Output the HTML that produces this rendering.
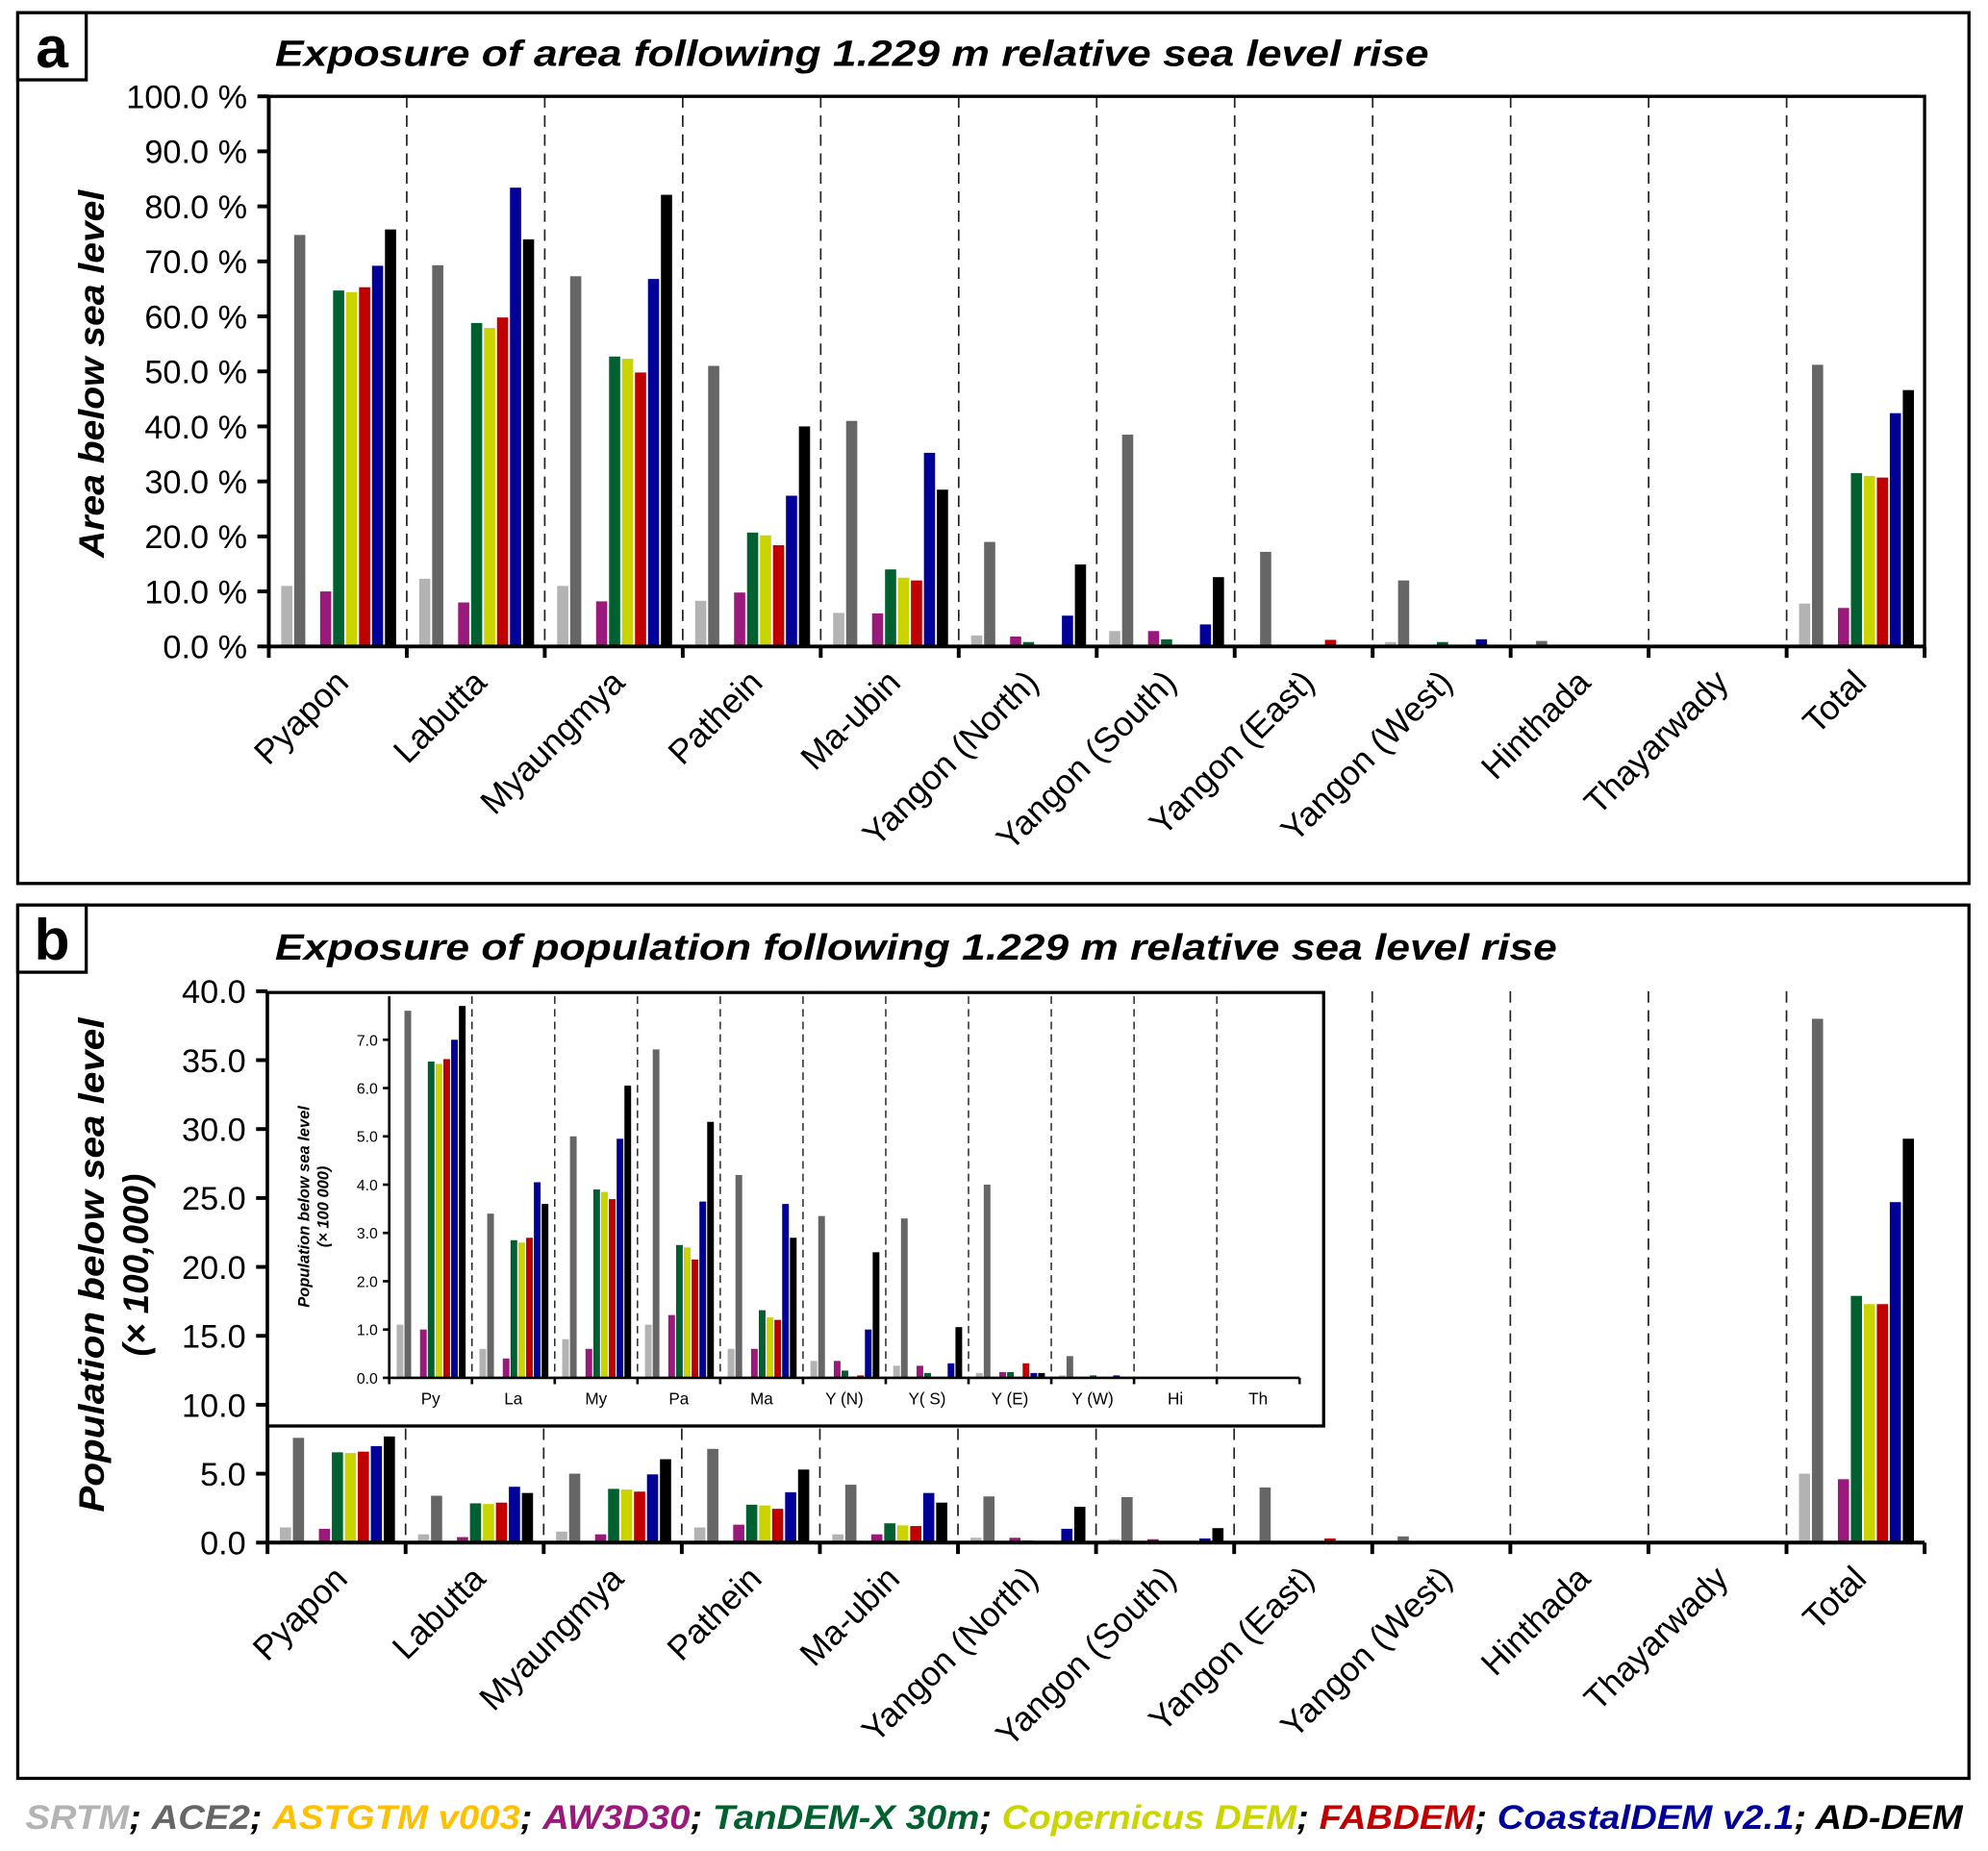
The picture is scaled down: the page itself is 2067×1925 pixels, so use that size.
<!DOCTYPE html>
<html><head><meta charset="utf-8"><style>
html,body{margin:0;padding:0;background:#fff}
svg{display:block}
text{font-family:"Liberation Sans",sans-serif}
.n{font-family:"Liberation Sans Narrow","Liberation Sans",sans-serif}
</style></head><body>
<svg id="fig" width="2067" height="1925" viewBox="0 0 1568 1460.3" preserveAspectRatio="none" xmlns="http://www.w3.org/2000/svg">
<rect x="14" y="10" width="1539" height="687" fill="none" stroke="#000" stroke-width="2.5"/>
<rect x="14" y="10" width="54" height="53" fill="#fff" stroke="#000" stroke-width="2.5"/>
<text x="41" y="53" font-size="46" font-weight="bold" text-anchor="middle">a</text>
<text x="217" y="52" font-size="29" font-weight="bold" font-style="italic" textLength="910" lengthAdjust="spacingAndGlyphs">Exposure of area following 1.229 m relative sea level rise</text>
<rect x="14" y="714" width="1539" height="689" fill="none" stroke="#000" stroke-width="2.5"/>
<rect x="14" y="714" width="54" height="53" fill="#fff" stroke="#000" stroke-width="2.5"/>
<text x="41" y="757" font-size="46" font-weight="bold" text-anchor="middle">b</text>
<text x="217" y="757" font-size="29" font-weight="bold" font-style="italic" textLength="1011" lengthAdjust="spacingAndGlyphs">Exposure of population following 1.229 m relative sea level rise</text>
<text transform="translate(82,295) rotate(-90)" font-size="28" font-weight="bold" font-style="italic" text-anchor="middle" textLength="290" lengthAdjust="spacingAndGlyphs">Area below sea level</text>
<text transform="translate(82,998) rotate(-90)" font-size="28" font-weight="bold" font-style="italic" text-anchor="middle" textLength="390" lengthAdjust="spacingAndGlyphs">Population below sea level</text>
<text transform="translate(117,998) rotate(-90)" font-size="28" font-weight="bold" font-style="italic" text-anchor="middle">(× 100,000)</text>
<g id="ga"></g><g id="gb"></g><g id="gi"></g>
<text x="20" y="1443" font-size="27" font-weight="bold" font-style="italic" textLength="1528" lengthAdjust="spacingAndGlyphs"><tspan fill="#b3b3b3">SRTM</tspan>; <tspan fill="#666">ACE2</tspan>; <tspan fill="#ffc000">ASTGTM v003</tspan>; <tspan fill="#991a7a">AW3D30</tspan>; <tspan fill="#006030">TanDEM-X 30m</tspan>; <tspan fill="#ccd400">Copernicus DEM</tspan>; <tspan fill="#c00000">FABDEM</tspan>; <tspan fill="#000099">CoastalDEM v2.1</tspan>; AD-DEM</text>
</svg>
<script>
const categories=["Pyapon","Labutta","Myaungmya","Pathein","Ma-ubin","Yangon (North)","Yangon (South)","Yangon (East)","Yangon (West)","Hinthada","Thayarwady","Total"];
const insetCategories=["Py","La","My","Pa","Ma","Y (N)","Y( S)","Y (E)","Y (W)","Hi","Th"];
const seriesNames=["SRTM","ACE2","ASTGTM v003","AW3D30","TanDEM-X 30m","Copernicus DEM","FABDEM","CoastalDEM v2.1","AD-DEM"];
const seriesColors=["#b3b3b3","#666666","#ffc000","#991a7a","#006030","#ccd400","#c00000","#000099","#000000"];
// area (%) per category, series order as seriesNames
const areaPyapon=[11,74.8,0,10,64.7,64.4,65.3,69.2,75.8];
const areaLabutta=[12.3,69.3,0.3,8,58.8,57.9,59.8,83.4,74];
const areaMyaungmya=[11,67.3,0,8.2,52.7,52.3,49.8,66.8,82.1];
const areaPathein=[8.3,51,0,9.8,20.7,20.2,18.4,27.4,40];
const areaMaubin=[6.1,41,0,6,14,12.5,12,35.2,28.5];
const areaYN=[2,19,0,1.8,0.8,0.2,0.2,5.6,14.9];
const areaYS=[2.8,38.5,0,2.8,1.3,0.2,0.2,4,12.6];
const areaYE=[0.3,17.2,0,0.3,0.3,0.3,1.2,0.3,0.3];
const areaYW=[0.8,12,0,0.1,0.8,0.1,0.1,1.3,0.1];
const areaHi=[0.1,1,0,0,0,0,0,0,0];
const areaTh=[0,0,0,0,0,0,0,0.2,0];
const areaTotal=[7.8,51.2,0,7,31.5,31,30.7,42.4,46.6];
// population (x100,000)
const popPyapon=[1.1,7.6,0,1.0,6.55,6.5,6.6,7.0,7.7];
const popLabutta=[0.6,3.4,0,0.4,2.85,2.8,2.9,4.05,3.6];
const popMyaungmya=[0.8,5.0,0,0.6,3.9,3.85,3.7,4.95,6.05];
const popPathein=[1.1,6.8,0,1.3,2.75,2.7,2.45,3.65,5.3];
const popMaubin=[0.6,4.2,0,0.6,1.4,1.25,1.2,3.6,2.9];
const popYN=[0.35,3.35,0,0.35,0.15,0.03,0.05,1.0,2.6];
const popYS=[0.25,3.3,0,0.25,0.1,0.02,0.02,0.3,1.05];
const popYE=[0.1,4.0,0,0.12,0.12,0.02,0.3,0.1,0.1];
const popYW=[0.05,0.45,0,0.02,0.05,0.01,0.01,0.05,0.01];
const popHi=[0,0,0,0,0,0,0,0,0];
const popTh=[0,0,0,0,0,0,0,0,0];
const popTotal=[5.0,38.0,0,4.6,17.9,17.3,17.3,24.7,29.3];
const areaTicks=["0.0 %","10.0 %","20.0 %","30.0 %","40.0 %","50.0 %","60.0 %","70.0 %","80.0 %","90.0 %","100.0 %"];
const popTicks=["0.0","5.0","10.0","15.0","20.0","25.0","30.0","35.0","40.0"];
const insetTicks=["0.0","1.0","2.0","3.0","4.0","5.0","6.0","7.0"];
const areaData=[areaPyapon,areaLabutta,areaMyaungmya,areaPathein,areaMaubin,areaYN,areaYS,areaYE,areaYW,areaHi,areaTh,areaTotal];
const popData=[popPyapon,popLabutta,popMyaungmya,popPathein,popMaubin,popYN,popYS,popYE,popYW,popHi,popTh,popTotal];

const NS="http://www.w3.org/2000/svg";
function mk(parent,tag,attrs,txt){const e=document.createElementNS(NS,tag);for(const k in attrs)e.setAttribute(k,attrs[k]);if(txt!==undefined)e.textContent=txt;parent.appendChild(e);return e;}

function drawChart(g,o){
  const gw=(o.x1-o.x0)/o.cats.length;
  const xs=i=>o.x0+i*gw;
  const ys=v=>o.y0-(v/o.vmax)*(o.y0-o.ytop);
  for(let i=1;i<o.cats.length;i++){
    const d=mk(g,'line',{x1:xs(i),x2:xs(i),y1:o.ytop,y2:o.y0,stroke:'#222','stroke-width':o.dw||1.3,'stroke-dasharray':o.dash||'9,6'});
    
    
  }
  const slot=gw*0.094;
  o.cats.forEach((c,i)=>{
    o.data[i].forEach((v,s)=>{
      if(v<=0)return;
      const x=xs(i)+gw*0.09+s*slot;
      const y=ys(v);
      const r=mk(g,'rect',{x:x,y:y,width:slot*0.86,height:Math.max(o.y0-y,0.6),fill:seriesColors[s]});
      
      
    });
  });
  const ax=mk(g,'path',{d:`M${o.x0},${o.ytop} V${o.y0} H${o.x1}`,fill:'none',stroke:'#000','stroke-width':o.aw||3});
  
  
  o.ticks.forEach((t,k)=>{
    const v=k*o.vmax/(o.ticks.length-1);const y=ys(v);
    const tl=mk(g,'line',{x1:o.x0-o.tl,x2:o.x0,y1:y,y2:y,stroke:'#000','stroke-width':o.aw||3});
    
    
    const tx=mk(g,'text',{x:o.x0-o.tl-o.tg,y:y+o.fs*0.36,'font-size':o.fs,'text-anchor':'end',class:'n'},t);
    
    
  });
  for(let i=0;i<=o.cats.length;i++){
    const tk=mk(g,'line',{x1:xs(i),x2:xs(i),y1:o.y0,y2:o.y0+o.tl,stroke:'#000','stroke-width':o.aw||3});
    
    
  }
  o.cats.forEach((c,i)=>{
    const cx=xs(i)+gw/2;let t;
    if(o.rot){t=mk(g,'text',{transform:`translate(${cx+10},${o.y0+30}) rotate(-45)`,'font-size':o.xfs,'text-anchor':'end'},c);}
    else{t=mk(g,'text',{x:cx,y:o.y0+o.xfs+8,'font-size':o.xfs,'text-anchor':'middle'},c);}
    
    
  });
  if(o.topLine){const tp=mk(g,'path',{d:`M${o.x0},${o.ytop} H${o.x1} V${o.y0}`,fill:'none',stroke:'#000','stroke-width':2.5});
    
    }
}
drawChart(document.getElementById('ga'),{x0:212,x1:1518,y0:510,ytop:76,vmax:100,cats:categories,data:areaData,ticks:areaTicks,tl:9,tg:8,fs:26,xfs:27,rot:true,topLine:true});
drawChart(document.getElementById('gb'),{x0:211,x1:1518,y0:1217,ytop:782,vmax:40,cats:categories,data:popData,ticks:popTicks,tl:9,tg:8,fs:26,xfs:27,rot:true});
const gi=document.getElementById('gi');
const ib=mk(gi,'rect',{x:211,y:783,width:833,height:342,fill:'#fff',stroke:'#000','stroke-width':2.5});


drawChart(gi,{x0:307,x1:1025,y0:1087,ytop:1087-7.9*38.1,vmax:7.9,cats:insetCategories,data:popData.slice(0,11),ticks:[],tl:5,tg:4,fs:12,xfs:13,rot:false,aw:2,dash:'6,4',dw:1.1});
const iys=v=>1087-v*38.1;
insetTicks.forEach((t,k)=>{
  const y=iys(k);
  const l=mk(gi,'line',{x1:302,x2:307,y1:y,y2:y,stroke:'#000','stroke-width':2});
  
  
  const tx=mk(gi,'text',{x:298,y:y+4.5,'font-size':12,'text-anchor':'end',class:'n'},t);
  
  
});
const it1=mk(gi,'text',{transform:'translate(244,952) rotate(-90)','font-size':12.5,'font-weight':'bold','font-style':'italic','text-anchor':'middle'},'Population below sea level');


const it2=mk(gi,'text',{transform:'translate(259,952) rotate(-90)','font-size':12.5,'font-weight':'bold','font-style':'italic','text-anchor':'middle'},'(× 100 000)');


</script>
</body></html>
